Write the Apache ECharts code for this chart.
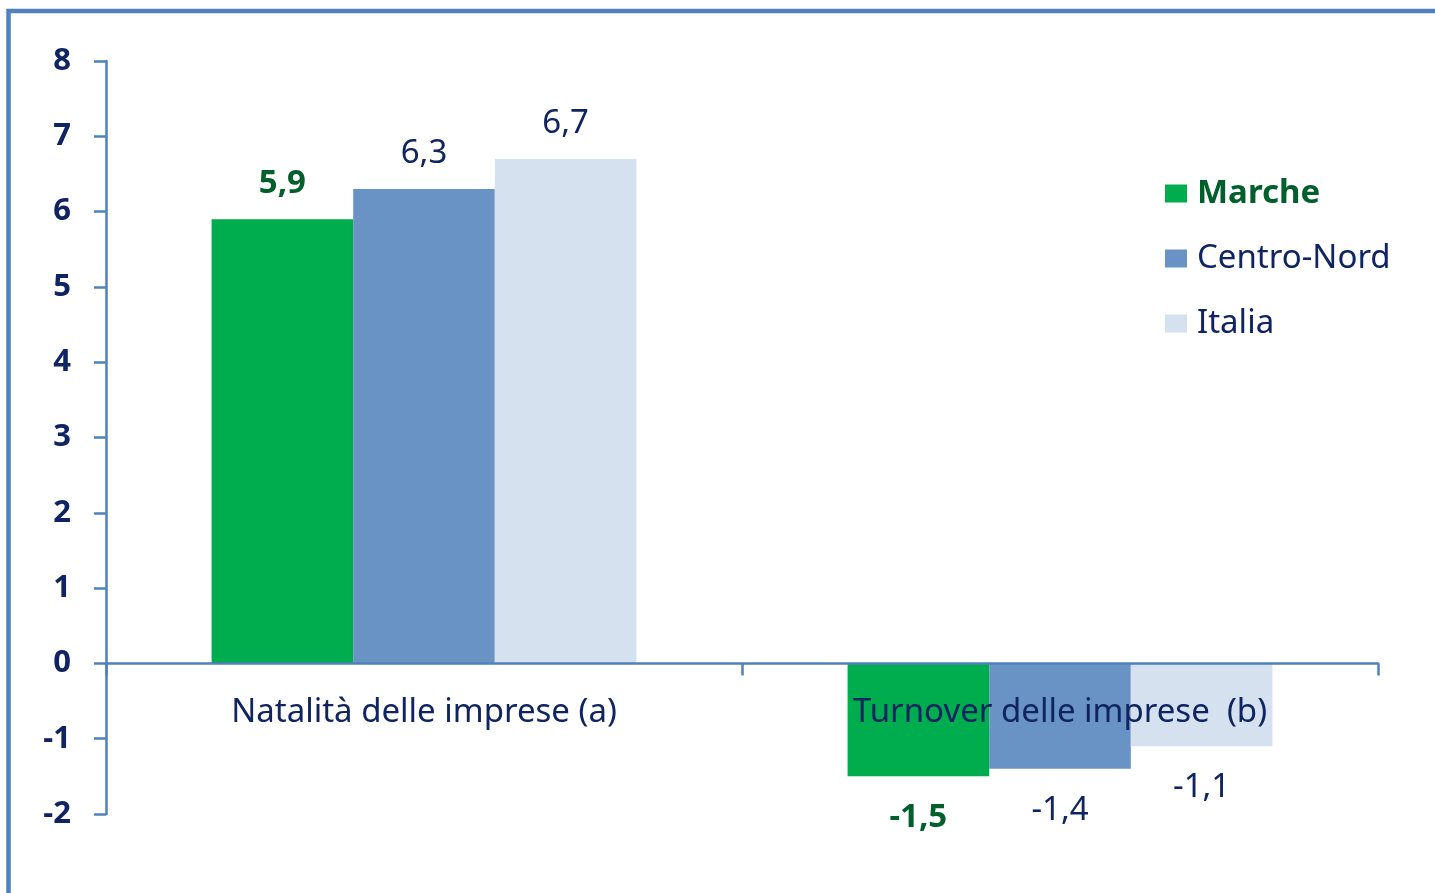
<!DOCTYPE html>
<html>
<head>
<meta charset="utf-8">
<script src="https://cdn.jsdelivr.net/npm/echarts@6/dist/echarts.min.js"></script>
<style>
  html, body { margin: 0; padding: 0; background: #ffffff; }
  #chart { width: 1435px; height: 893px; }
</style>
</head>
<body>
<div id="chart"></div>
<script>
// Indicatori di natalità e turnover delle imprese
const categories = ['Natalità delle imprese (a)', 'Turnover delle imprese  (b)'];
const seriesNames = ['Marche', 'Centro-Nord', 'Italia'];
const marche = [5.9, -1.5];
const centroNord = [6.3, -1.4];
const italia = [6.7, -1.1];
const yTicks = [-2, -1, 0, 1, 2, 3, 4, 5, 6, 7, 8];

const navy = '#0f2460';
const darkGreen = '#005f2b';
const axisBlue = '#4f81bd';
const font = '"Noto Sans", "Open Sans", sans-serif';
const fontSize = 33;

const fmt = v => String(v).replace('.', ',');

function makeSeries(name, values, color, labelColor, bold) {
  return {
    name: name,
    type: 'bar',
    barGap: 0,
    barCategoryGap: '33.2%',
    itemStyle: { color: color },
    data: values.map(v => ({
      value: v,
      label: { position: v < 0 ? 'bottom' : 'top', distance: v < 0 ? 25 : 19 }
    })),
    label: {
      show: true,
      formatter: p => fmt(p.value),
      color: labelColor,
      fontFamily: font,
      fontSize: fontSize,
      fontWeight: bold ? 'bold' : 'normal'
    }
  };
}

const chart = echarts.init(document.getElementById('chart'), null, { renderer: 'canvas' });
chart.setOption({
  backgroundColor: '#ffffff',
  animation: false,
  graphic: [{
    type: 'rect',
    shape: { x: 8.5, y: 11, width: 1500, height: 1000 },
    style: { fill: 'none', stroke: axisBlue, lineWidth: 4.5 },
    silent: true
  }],
  grid: { left: 106, right: 57, top: 61, bottom: 79, containLabel: false },
  legend: {
    orient: 'vertical',
    left: 1165,
    top: 177,
    padding: 0,
    icon: 'rect',
    itemWidth: 22,
    itemHeight: 18,
    itemGap: 32,
    textStyle: { fontFamily: font, fontSize: fontSize, lineHeight: 33, color: navy, padding: [0, 0, 0, 5] },
    data: [
      { name: seriesNames[0], textStyle: { color: darkGreen, fontWeight: 'bold' } },
      { name: seriesNames[1] },
      { name: seriesNames[2] }
    ]
  },
  xAxis: {
    type: 'category',
    data: categories,
    z: 10,
    axisLine: { onZero: true, lineStyle: { color: axisBlue, width: 2.5 } },
    axisTick: { show: true, length: 12, lineStyle: { color: axisBlue, width: 2.5 } },
    // category names sit just under the zero line, over the negative bars
    axisLabel: { margin: -118, color: navy, fontFamily: font, fontSize: fontSize }
  },
  yAxis: {
    type: 'value',
    min: yTicks[0],
    max: yTicks[yTicks.length - 1],
    interval: 1,
    splitLine: { show: false },
    axisLine: { show: true, lineStyle: { color: axisBlue, width: 2.5 } },
    axisTick: { show: true, length: 12, lineStyle: { color: axisBlue, width: 2.5 } },
    axisLabel: { margin: 35, color: navy, fontFamily: font, fontSize: 31, fontWeight: 'bold', padding: [10, 0, 0, 0] }
  },
  series: [
    makeSeries(seriesNames[0], marche, '#00ad4e', darkGreen, true),
    makeSeries(seriesNames[1], centroNord, '#6893c4', navy, false),
    makeSeries(seriesNames[2], italia, '#d6e1ef', navy, false)
  ]
});
</script>
</body>
</html>
